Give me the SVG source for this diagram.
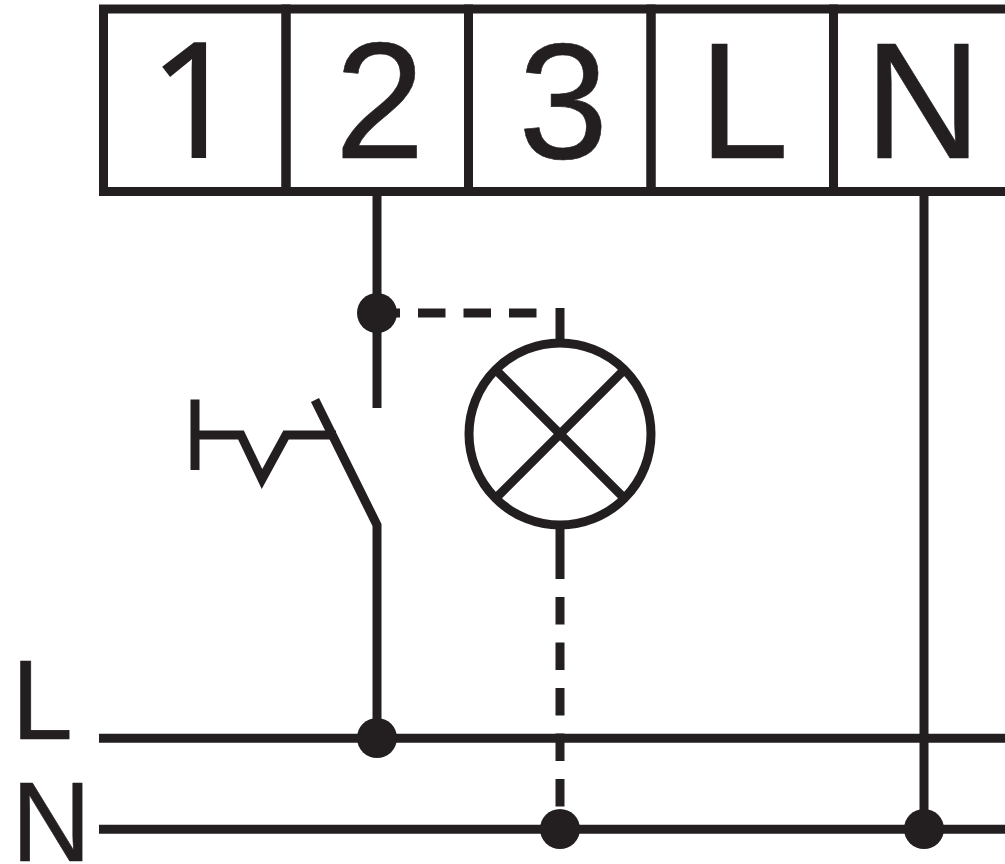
<svg xmlns="http://www.w3.org/2000/svg" width="1005" height="864" viewBox="0 0 1005 864">
<style>
.w{fill:none;stroke:#231f20;stroke-width:9;stroke-linejoin:miter;stroke-linecap:butt}
.d{stroke-dasharray:27.5 18}
.j{fill:#231f20}
text{fill:#231f20;stroke:#231f20;stroke-width:.6;font-family:"Liberation Sans",Arial,sans-serif}
.t{font-size:166px}
.one{font-family:"Open Sans","Liberation Sans",sans-serif;font-size:160px;stroke-width:1.8}
.b{font-size:113px}
</style>
<rect width="1005" height="864" fill="#fff"/>
<g id="connectors">
<path class="w" d="M377 196V408"/>
<path class="w d" d="M400 313H373M418 313H537"/>
<path class="w" d="M560 308V339"/>
<path class="w" d="M560 529V579"/>
<path class="w d" d="M560 597V807"/>
<path class="w" d="M315 400L377 525V738"/>
<path class="w" d="M924 196V829"/>
<path class="w" d="M99 738.3H1005"/>
<path class="w" d="M99 829.3H1005"/>
</g>
<g id="terminal-1"><rect class="w" x="103.5" y="9" width="182.5" height="182.5"/><text class="t one" x="149" y="157">1</text></g>
<g id="terminal-2"><rect class="w" x="286" y="9" width="182.5" height="182.5"/><text class="t" transform="translate(334.7 157.5) scale(.975 1)">2</text></g>
<g id="terminal-3"><rect class="w" x="468.5" y="9" width="182.5" height="182.5"/><text class="t" transform="translate(518.3 157.5) scale(.975 1)">3</text></g>
<g id="terminal-L"><rect class="w" x="651" y="9" width="182.5" height="182.5"/><text class="t" transform="translate(698.7 157.5) scale(.975 1)">L</text></g>
<g id="terminal-N"><rect class="w" x="833.5" y="9" width="182.5" height="182.5"/><text class="t" transform="translate(864.4 157.5) scale(.975 1)">N</text></g>
<g id="lamp"><circle class="w" cx="560" cy="434" r="91"/><path class="w" d="M495.6 369.6L624.4 498.4M624.4 369.6L495.6 498.4"/></g>
<g id="switch-actuator"><path class="w" d="M195 399.5V470M195 435H241L262 479L286 435H336"/></g>
<g id="junction-top"><circle class="j" cx="377" cy="313" r="20"/></g>
<g id="junction-L"><circle class="j" cx="377" cy="738" r="20"/></g>
<g id="junction-N-lamp"><circle class="j" cx="560" cy="829" r="20"/></g>
<g id="junction-N-terminal"><circle class="j" cx="924" cy="829" r="20"/></g>
<g id="label-L"><text class="b" transform="translate(11.6 738.5) scale(.975 1)">L</text></g>
<g id="label-N"><text class="b" transform="translate(11.6 860.5) scale(.975 1)">N</text></g>
</svg>
